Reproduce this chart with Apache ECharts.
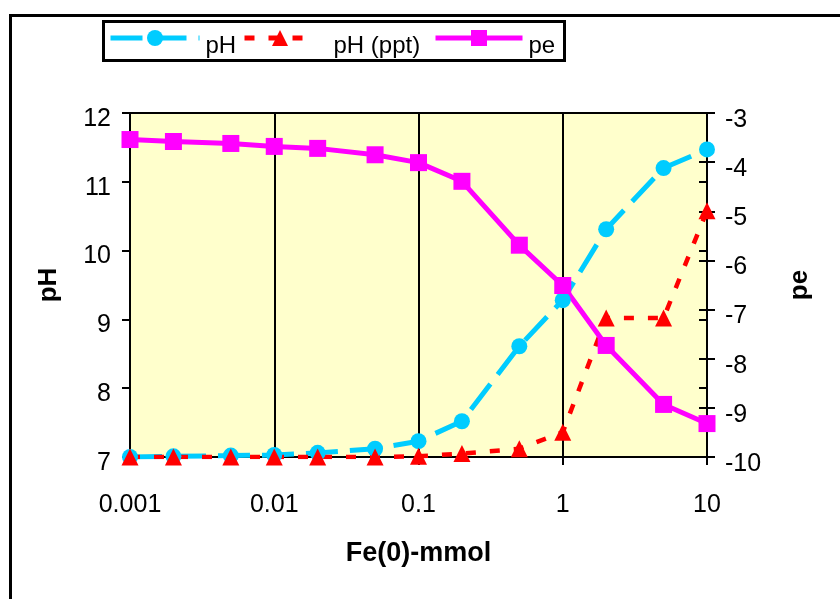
<!DOCTYPE html>
<html>
<head>
<meta charset="utf-8">
<script src="https://cdn.jsdelivr.net/npm/echarts@6/dist/echarts.min.js"></script>
<style>
    html, body { margin: 0; padding: 0; background: #fff; }
    #main { width: 840px; height: 599px; }
</style>
</head>
<body>
<div id="main"></div>
<script>
// Fe(0) amount, mmol (log axis)
var feMmol = [0.001, 0.002, 0.005, 0.01, 0.02, 0.05, 0.1, 0.2, 0.5, 1, 2, 5, 10];
// pH without precipitation
var phValues = [7.0, 7.01, 7.02, 7.03, 7.06, 7.12, 7.23, 7.52, 8.61, 9.28, 10.31, 11.2, 11.47];
// pH with precipitation
var phPptValues = [7.0, 7.0, 7.0, 7.0, 7.0, 7.0, 7.01, 7.05, 7.12, 7.36, 9.02, 9.02, 10.58];
// pe (right axis)
var peValues = [-3.54, -3.58, -3.62, -3.68, -3.72, -3.85, -4.01, -4.39, -5.69, -6.51, -7.73, -8.93, -9.32];

var seriesNames = ['pH', 'pH (ppt)', 'pe'];

function pairs(ys) {
    return feMmol.map(function (x, i) {
        return [x, ys[i]];
    });
}

var FONT = 'Arial, "Liberation Sans", sans-serif';

// legend entry: icon keeps the thick series line, text sits a bit lower than the icon
function legendEntry(name, left, width, padLeft) {
    return {
        data: [name], left: left, top: 18, padding: 0,
        itemWidth: width, itemHeight: 20,
        lineStyle: {width: 5},
        formatter: '{s| }{t|{name}}',
        textStyle: {
            fontSize: 24, fontFamily: FONT, color: '#000',
            rich: {
                s: {height: 40, lineHeight: 40, width: padLeft, fontSize: 24},
                t: {fontSize: 24, fontFamily: FONT, color: '#000', verticalAlign: 'bottom', lineHeight: 24}
            }
        }
    };
}

var myChart = echarts.init(document.getElementById('main'));

var option = {
    backgroundColor: '#fff',
    animation: false,
    textStyle: {fontFamily: FONT, color: '#000'},
    grid: {
        left: 130, right: 133, top: 113, bottom: 142,
        show: true,
        backgroundColor: '#FFFFCC',
        borderColor: '#000',
        borderWidth: 2
    },
    // one legend per entry so each can sit where the original had it
    legend: [
        legendEntry(seriesNames[0], 108, 89, 1),
        legendEntry(seriesNames[1], 242, 71, 13),
        legendEntry(seriesNames[2], 433, 87, 1)
    ],
    graphic: [
        // outer chart frame (runs off the right/bottom of the picture)
        {
            type: 'rect', left: 8, top: 13, silent: true,
            shape: {width: 900, height: 700},
            style: {fill: 'none', stroke: '#000', lineWidth: 3}
        },
        // legend box
        {
            type: 'rect', left: 101, top: 19, silent: true,
            shape: {width: 461, height: 39},
            style: {fill: 'none', stroke: '#000', lineWidth: 3}
        }
    ],
    xAxis: {
        type: 'log',
        logBase: 10,
        min: 0.001,
        max: 10,
        name: 'Fe(0)-mmol',
        nameLocation: 'middle',
        nameGap: 83,
        nameTextStyle: {fontSize: 27, fontWeight: 'bold', fontFamily: FONT, color: '#000'},
        axisLine: {lineStyle: {color: '#000', width: 2}},
        axisTick: {show: true, length: 8, lineStyle: {color: '#000', width: 2}},
        axisLabel: {
            fontSize: 25, fontFamily: FONT, color: '#000', margin: 36,
            formatter: function (v) { return String(+v.toPrecision(3)); }
        },
        splitLine: {show: true, lineStyle: {color: '#000', width: 2}}
    },
    yAxis: [
        {
            type: 'value', min: 7, max: 12, interval: 1,
            name: 'pH',
            nameLocation: 'middle', nameRotate: 90, nameGap: 68,
            nameTextStyle: {fontSize: 26, fontWeight: 'bold', fontFamily: FONT, color: '#000'},
            axisLine: {show: true, lineStyle: {color: '#000', width: 2}},
            axisTick: {show: true, length: 8, lineStyle: {color: '#000', width: 2}},
            axisLabel: {fontSize: 25, fontFamily: FONT, color: '#000', margin: 19,
                verticalAlign: 'top', lineHeight: 12},
            splitLine: {show: false}
        },
        {
            type: 'value', min: -10, max: -3, interval: 1,
            position: 'right',
            name: 'pe',
            nameLocation: 'middle', nameRotate: 90, nameGap: 80,
            nameTextStyle: {fontSize: 26, fontWeight: 'bold', fontFamily: FONT, color: '#000'},
            axisLine: {show: true, lineStyle: {color: '#000', width: 2}},
            axisTick: {show: true, length: 8, lineStyle: {color: '#000', width: 2}},
            axisLabel: {fontSize: 25, fontFamily: FONT, color: '#000', margin: 18,
                verticalAlign: 'top', lineHeight: 14},
            splitLine: {show: false}
        },
        // inner halves of the crossing ticks
        {
            type: 'value', min: 7, max: 12, interval: 1,
            axisLine: {show: false},
            axisTick: {show: true, inside: true, length: 8, lineStyle: {color: '#000', width: 2}},
            axisLabel: {show: false},
            splitLine: {show: false}
        },
        {
            type: 'value', min: -10, max: -3, interval: 1, position: 'right',
            axisLine: {show: false},
            axisTick: {show: true, inside: true, length: 8, lineStyle: {color: '#000', width: 2}},
            axisLabel: {show: false},
            splitLine: {show: false}
        }
    ],
    series: [
        {
            name: seriesNames[0],
            type: 'line',
            yAxisIndex: 0,
            data: pairs(phValues),
            symbol: 'circle',
            symbolSize: 16,
            itemStyle: {color: '#00CCFF'},
            lineStyle: {color: '#00CCFF', width: 5, type: [32, 12]}
        },
        {
            name: seriesNames[1],
            type: 'line',
            yAxisIndex: 0,
            data: pairs(phPptValues),
            symbol: 'triangle',
            symbolSize: 17,
            itemStyle: {color: '#FF0000'},
            lineStyle: {color: '#FF0000', width: 4.5, type: [10, 14]}
        },
        {
            name: seriesNames[2],
            type: 'line',
            yAxisIndex: 1,
            data: pairs(peValues),
            symbol: 'rect',
            symbolSize: 17,
            itemStyle: {color: '#FF00FF'},
            lineStyle: {color: '#FF00FF', width: 5}
        }
    ]
};

myChart.setOption(option);
</script>
</body>
</html>
